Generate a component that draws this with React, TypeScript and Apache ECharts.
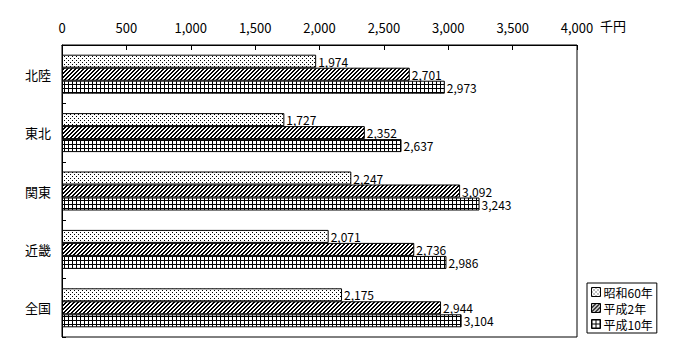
import React, { useEffect, useRef } from "react";
import * as echarts from "echarts";

const categories = ["北陸", "東北", "関東", "近畿", "全国"];
const seriesNames = ["昭和60年", "平成2年", "平成10年"];
const s60 = [1974, 1727, 2247, 2071, 2175];
const h2 = [2701, 2352, 3092, 2736, 2944];
const h10 = [2973, 2637, 3243, 2986, 3104];
const axisTicks = [0, 500, 1000, 1500, 2000, 2500, 3000, 3500, 4000];
const unitLabel = "千円";

function makePattern(kind: string): HTMLCanvasElement {
  const c = document.createElement("canvas");
  c.width = 4;
  c.height = 4;
  const ctx = c.getContext("2d")!;
  ctx.fillStyle = "#fff";
  ctx.fillRect(0, 0, 4, 4);
  ctx.fillStyle = "#000";
  if (kind === "dots") {
    ctx.fillRect(0, 0, 1, 1);
    ctx.fillRect(2, 2, 1, 1);
  } else if (kind === "hatch") {
    for (let y = 0; y < 4; y++) {
      const x = 3 - y;
      ctx.fillRect(x, y, 1, 1);
      ctx.fillRect((x + 1) % 4, y, 1, 1);
    }
  } else {
    ctx.fillRect(0, 0, 4, 1);
    ctx.fillRect(0, 0, 1, 4);
  }
  return c;
}

export default function App() {
  const ref = useRef<HTMLDivElement>(null);
  useEffect(() => {
    document.body.style.margin = "0";
    if (!ref.current) return;
    const chart = echarts.init(ref.current, null, { renderer: "svg" });
    const pats = ["dots", "hatch", "grid"].map((k) => ({
      image: makePattern(k),
      repeat: "repeat",
    }));
    const data = [s60, h2, h10];
    const font = "'Noto Sans CJK JP', sans-serif";
    chart.setOption({
      animation: false,
      backgroundColor: "#fff",
      textStyle: { fontFamily: font, color: "#000" },
      grid: {
        left: 62,
        right: 123,
        top: 45,
        bottom: 23,
        show: true,
        borderColor: "#000",
        borderWidth: 1,
        backgroundColor: "transparent",
      },
      graphic: [
        {
          type: "text",
          left: 600,
          top: 19,
          style: { text: unitLabel, fontSize: 13, fontFamily: font, fill: "#000" },
        },
      ],
      legend: {
        orient: "vertical",
        left: 587,
        top: 283,
        itemWidth: 9,
        itemHeight: 9,
        itemGap: 4,
        padding: [3, 4, 3, 4],
        borderColor: "#000",
        borderWidth: 1,
        backgroundColor: "#fff",
        textStyle: {
          fontSize: 12,
          lineHeight: 12,
          color: "#000",
          fontFamily: font,
          padding: [0, 0, 0, -2],
        },
        data: seriesNames.map((n, i) => ({
          name: n,
          icon: "rect",
          itemStyle: { color: pats[i] as any, borderColor: "#000", borderWidth: 1 },
        })),
      },
      xAxis: {
        type: "value",
        position: "top",
        min: axisTicks[0],
        max: axisTicks[axisTicks.length - 1],
        interval: 500,
        axisLine: { show: true, lineStyle: { color: "#000" } },
        axisTick: { show: true, inside: true, length: 5, lineStyle: { color: "#000" } },
        splitLine: { show: false },
        axisLabel: {
          color: "#000",
          fontSize: 13,
          fontFamily: font,
          margin: 11,
          formatter: (v: number) => v.toLocaleString("en-US"),
        },
      },
      yAxis: {
        type: "category",
        inverse: true,
        data: categories,
        axisLine: { show: true, lineStyle: { color: "#000" } },
        axisTick: { show: true, inside: true, length: 4, lineStyle: { color: "#000" } },
        axisLabel: { color: "#000", fontSize: 13, fontFamily: font, margin: 11 },
      },
      series: seriesNames.map((n, i) => ({
        name: n,
        type: "bar",
        data: data[i],
        barWidth: 13,
        barGap: "0%",
        itemStyle: { color: pats[i] as any, borderColor: "#000", borderWidth: 1 },
        label: {
          show: true,
          position: "right",
          distance: 2,
          color: "#000",
          fontSize: 12,
          lineHeight: 12,
          fontFamily: font,
          formatter: (p: any) => Number(p.value).toLocaleString("en-US"),
        },
      })),
    });
    return () => chart.dispose();
  }, []);
  return <div ref={ref} style={{ width: 700, height: 360 }} />;
}
